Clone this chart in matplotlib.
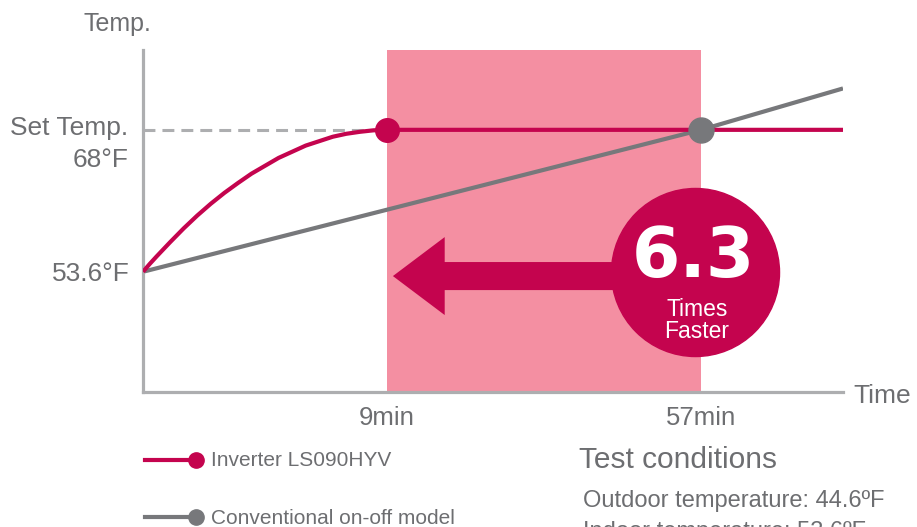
import numpy as np
import matplotlib
matplotlib.use("Agg")
import matplotlib.pyplot as plt
from matplotlib.lines import Line2D
from matplotlib.patches import FancyArrow

plt.rcParams["font.family"] = ["Liberation Sans", "DejaVu Sans"]

# --- data ---
inverter_t = [0, 0.25, 0.5, 1.0, 1.5, 2.0, 2.5, 3.0, 3.5, 4.0, 5.0, 6.0, 7.0, 7.5,
              8.0, 8.5, 9.0, 78.7]
inverter_temp = [53.6, 54.4, 55.15, 56.6, 58.0, 59.3, 60.5, 61.6, 62.6, 63.55, 65.15,
                 66.4, 67.3, 67.6, 67.8, 67.95, 68.0, 68.0]
conv_t = [0, 57, 78.7]
conv_temp = [53.6, 68.0, 72.2]
start_temp = 53.6
set_temp = 68.0
inverter_done = 9      # min
conv_done = 57         # min
speedup = "6.3"

RED = "#c4044e"
PINK = "#f48fa2"
GRAY = "#77787b"
LIGHT = "#adaeb0"
TXT = "#6d6e71"

W, H = 917, 527


def px(x, y):
    return x / W, 1 - y / H


# schematic time axis: early minutes are stretched
knots_t = [0, 9, 57, 100]
knots_p = [0, 244, 558, 839.3]
fwd = lambda t: np.interp(t, knots_t, knots_p)
inv = lambda p: np.interp(p, knots_p, knots_t)

fig = plt.figure(figsize=(W / 100, H / 100), dpi=100)
x0, y0 = px(143, 392)
ax = fig.add_axes([x0, y0, 700 / W, 342 / H])
ax.set_xscale("function", functions=(fwd, inv))
ax.set_xlim(0, 78.7)
ax.set_ylim(41.4, 76.1)

for s in ("top", "right"):
    ax.spines[s].set_visible(False)
for s in ("left", "bottom"):
    ax.spines[s].set_color(LIGHT)
    ax.spines[s].set_linewidth(2.3)
ax.set_yticks([])
ax.set_xticks([inverter_done, conv_done], [f"{inverter_done}min", f"{conv_done}min"])
ax.tick_params(axis="x", length=0, pad=10, labelsize=18.5, labelcolor=TXT)

ax.axvspan(inverter_done, conv_done, color=PINK, lw=0, zorder=0)
ax.plot([0, inverter_done], [set_temp, set_temp], color=LIGHT, lw=2.2,
        dashes=(3.9, 2.3), zorder=1)
ax.plot(conv_t, conv_temp, color=GRAY, lw=3, solid_capstyle="butt", zorder=2)
ax.plot(inverter_t, inverter_temp, color=RED, lw=3, solid_capstyle="butt",
        solid_joinstyle="round", zorder=3)
ax.plot([inverter_done], [set_temp], "o", color=RED, ms=17, zorder=4)
ax.plot([conv_done], [set_temp], "o", color=GRAY, ms=18, zorder=4)

# arrow + badge
ax.add_patch(FancyArrow(0.73, 0.339, -0.373, 0, width=0.082, head_width=0.228,
                        head_length=0.074, length_includes_head=True,
                        color=RED, lw=0, transform=ax.transAxes, zorder=5))
ax.plot([56.1], [start_temp], "o", color=RED, ms=121, clip_on=False, zorder=6)
fig.text(*px(693, 257), speedup, color="white", fontsize=50, fontweight="bold",
         family="DejaVu Sans", ha="center", va="center", zorder=7)
fig.text(*px(697, 309), "Times", color="white", fontsize=16.5, ha="center", va="center")
fig.text(*px(697, 331), "Faster", color="white", fontsize=16.5, ha="center", va="center")

# axis texts
fig.text(*px(84, 24), "Temp.", color=TXT, fontsize=18, ha="left", va="center")
fig.text(*px(128, 128), "Set Temp.", color=TXT, fontsize=19, ha="right", va="center")
fig.text(*px(128, 160), "68°F", color=TXT, fontsize=19, ha="right", va="center")
fig.text(*px(130, 274), "53.6°F", color=TXT, fontsize=19, ha="right", va="center")
fig.text(*px(853, 396), "Time", color=TXT, fontsize=19, ha="left", va="center")

# legend
for yy, col, label in [(460, RED, "Inverter LS090HYV"),
                       (517, GRAY, "Conventional on-off model")]:
    fig.add_artist(Line2D([145 / W, 193 / W], [1 - yy / H] * 2, color=col, lw=3))
    fig.add_artist(Line2D([196 / W], [1 - yy / H], marker="o", ms=11, color=col))
    fig.text(*px(211, yy + 1), label, color=TXT, fontsize=15, ha="left", va="center")

fig.text(*px(579, 460), "Test conditions", color=TXT, fontsize=21.5, ha="left", va="center")
fig.text(*px(583, 501), "Outdoor temperature: 44.6ºF", color=TXT, fontsize=17,
         ha="left", va="center")
fig.text(*px(583, 532), "Indoor temperature: 53.6ºF", color=TXT, fontsize=17,
         ha="left", va="center")

fig.savefig("out.png", dpi=100)
